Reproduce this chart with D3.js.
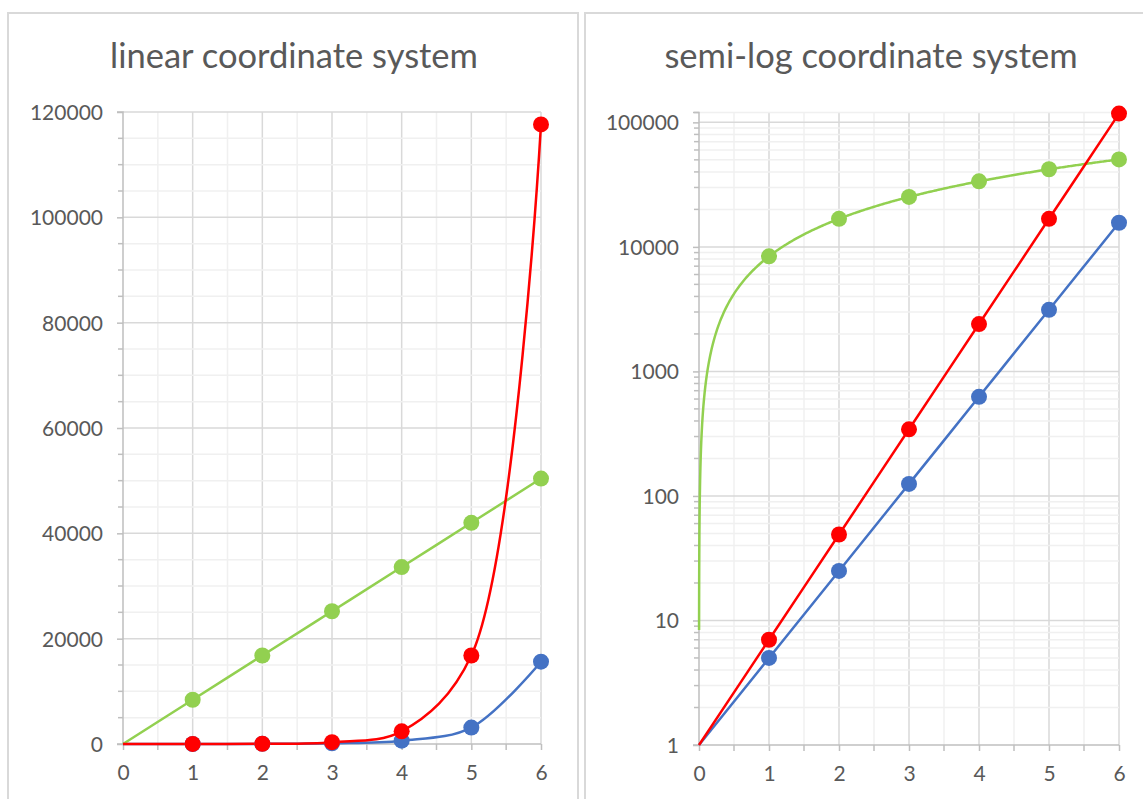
<!DOCTYPE html>
<html>
<head>
<meta charset="utf-8">
<script src="https://cdn.jsdelivr.net/npm/d3@7"></script>
<style>
  body { margin: 0; background: #fff; }
  svg { display: block; }
  text { font-family: Lato, "Open Sans", sans-serif; fill: #595959; }
</style>
</head>
<body>
<svg id="chart" width="1143" height="799"></svg>
<script>
// Data
const xValues = [0, 1, 2, 3, 4, 5, 6];
const redValues = [1, 7, 49, 343, 2401, 16807, 117649];
const blueValues = [1, 5, 25, 125, 625, 3125, 15625];
const greenValues = [0, 8400, 16800, 25200, 33600, 42000, 50400];
const xTicks = [0, 1, 2, 3, 4, 5, 6];
const linearTicks = [0, 20000, 40000, 60000, 80000, 100000, 120000];
const logTicks = [1, 10, 100, 1000, 10000, 100000];
const panelTitles = ["linear coordinate system", "semi-log coordinate system"];

const series = [
  { name: "blue", values: blueValues, color: "#4472c4" },
  { name: "green", values: greenValues, color: "#92d050" },
  { name: "red", values: redValues, color: "#ff0000" }
];

const svg = d3.select("#chart");
const gridMajor = "#d9d9d9", gridMinor = "#f0f0f0", axisColor = "#bfbfbf";

// Panel frames
svg.append("rect").attr("x", 8).attr("y", 13).attr("width", 570).attr("height", 820)
  .attr("fill", "#fff").attr("stroke", "#d9d9d9").attr("stroke-width", 2);
svg.append("rect").attr("x", 585).attr("y", 13).attr("width", 600).attr("height", 820)
  .attr("fill", "#fff").attr("stroke", "#d9d9d9").attr("stroke-width", 2);

function drawPanel(opts) {
  const g = svg.append("g");
  const x = d3.scaleLinear().domain([0, 6]).range([opts.left, opts.right]);
  const y = opts.y;

  // title
  g.append("text").attr("x", opts.titleX).attr("y", 68).attr("text-anchor", "middle")
    .attr("font-size", 34.5).text(opts.title);

  // vertical grid lines (minor every 0.5, major every 1)
  const xMinor = d3.range(0.5, 6, 1);
  g.selectAll(".vmin").data(xMinor).join("line")
    .attr("x1", d => x(d)).attr("x2", d => x(d))
    .attr("y1", y.range()[1]).attr("y2", y.range()[0])
    .attr("stroke", gridMinor).attr("stroke-width", 1.5);
  g.selectAll(".vmaj").data(xTicks.slice(1)).join("line")
    .attr("x1", d => x(d)).attr("x2", d => x(d))
    .attr("y1", y.range()[1]).attr("y2", y.range()[0])
    .attr("stroke", gridMajor).attr("stroke-width", 1.5);

  // horizontal grid lines
  g.selectAll(".hmin").data(opts.yMinor).join("line")
    .attr("x1", opts.left).attr("x2", opts.right)
    .attr("y1", d => y(d)).attr("y2", d => y(d))
    .attr("stroke", gridMinor).attr("stroke-width", 1.5);
  g.selectAll(".hmaj").data(opts.yTicks.slice(1)).join("line")
    .attr("x1", opts.left).attr("x2", opts.right)
    .attr("y1", d => y(d)).attr("y2", d => y(d))
    .attr("stroke", gridMajor).attr("stroke-width", 1.5);

  // y axis
  const yAxis = g.append("g").attr("transform", `translate(${opts.left},0)`)
    .call(d3.axisLeft(y).tickValues(opts.yTicks).tickFormat(d3.format("d"))
      .tickSize(6).tickPadding(14));
  yAxis.select(".domain").attr("stroke", axisColor).attr("stroke-width", 1.5)
    .attr("d", `M-6,${y.range()[1]}H0V${y.range()[0]}H-6`);
  yAxis.selectAll(".tick line").attr("stroke", axisColor).attr("stroke-width", 1.5);
  yAxis.selectAll(".tick text").attr("font-size", 21).attr("font-family", "Lato").attr("fill", "#595959")
    .attr("dy", "0.35em");
  // minor y ticks
  g.selectAll(".ymt").data(opts.yMinor).join("line")
    .attr("x1", opts.left - 5).attr("x2", opts.left)
    .attr("y1", d => y(d)).attr("y2", d => y(d))
    .attr("stroke", axisColor).attr("stroke-width", 1.5);

  // x axis
  const xAxis = g.append("g").attr("transform", `translate(0,${y.range()[0]})`)
    .call(d3.axisBottom(x).tickValues(xTicks).tickFormat(d3.format("d"))
      .tickSize(6).tickPadding(15));
  xAxis.select(".domain").attr("stroke", axisColor).attr("stroke-width", 1.5)
    .attr("d", `M${opts.left},0H${opts.right}`);
  xAxis.selectAll(".tick line").attr("stroke", axisColor).attr("stroke-width", 1.5);
  xAxis.selectAll(".tick text").attr("font-size", 21).attr("font-family", "Lato").attr("fill", "#595959");
  g.selectAll(".xmt").data(xMinor).join("line")
    .attr("x1", d => x(d)).attr("x2", d => x(d))
    .attr("y1", y.range()[0]).attr("y2", y.range()[0] + 6)
    .attr("stroke", axisColor).attr("stroke-width", 1.5);

  // series lines
  series.forEach(s => {
    const pts = opts.pathPoints(s, x, y);
    g.append("path").datum(pts)
      .attr("d", d3.line().x(d => d[0]).y(d => d[1]).curve(opts.curve(s)))
      .attr("fill", "none").attr("stroke", s.color).attr("stroke-width", 2.5);
  });
  // markers (x >= 1)
  series.forEach(s => {
    g.selectAll(null).data(xValues.slice(1)).join("circle")
      .attr("cx", d => x(d)).attr("cy", d => y(s.values[d]))
      .attr("r", 8).attr("fill", s.color);
  });
}

// Linear panel
const yLin = d3.scaleLinear().domain([0, 120000]).range([744, 112]);
drawPanel({
  title: panelTitles[0], titleX: 294,
  left: 123, right: 541, y: yLin,
  yTicks: linearTicks,
  yMinor: d3.range(5000, 120000, 5000).filter(v => v % 20000 !== 0),
  curve: () => d3.curveCatmullRom.alpha(0.5),
  pathPoints: (s, x, y) => xValues.map((v, i) => [x(v), y(s.values[i])])
});

// Semi-log panel
const yLog = d3.scaleLog().domain([1, 120000]).range([745, 112.5]);
const logMinor = [];
[1, 10, 100, 1000, 10000].forEach(dec => {
  for (let k = 2; k <= 9; k++) logMinor.push(dec * k);
});
logMinor.push(120000);
// parameter steps along one data segment, dense near its start
const segSteps = Array.from(new Set(
  d3.range(-3, 0, 0.05).map(k => Math.pow(10, k)).concat(d3.range(0, 1.0001, 0.02))
)).sort((a, b) => a - b);
drawPanel({
  title: panelTitles[1], titleX: 871,
  left: 699, right: 1119, y: yLog,
  yTicks: logTicks,
  yMinor: logMinor,
  curve: s => s.name === "green" ? d3.curveLinear : d3.curveCatmullRom.alpha(0.5),
  pathPoints: (s, x, y) => {
    if (s.name !== "green") return xValues.map((v, i) => [x(v), y(s.values[i])]);
    // segments traced in data space, then mapped onto the log axis
    const out = [];
    for (let i = 0; i < xValues.length - 1; i++) {
      const x0 = xValues[i], x1 = xValues[i + 1];
      const v0 = s.values[i], v1 = s.values[i + 1];
      segSteps.forEach(t => {
        const v = v0 + (v1 - v0) * t;
        if (v >= 1) out.push([x(x0 + (x1 - x0) * t), y(v)]);
      });
    }
    return out;
  }
});
</script>
</body>
</html>
